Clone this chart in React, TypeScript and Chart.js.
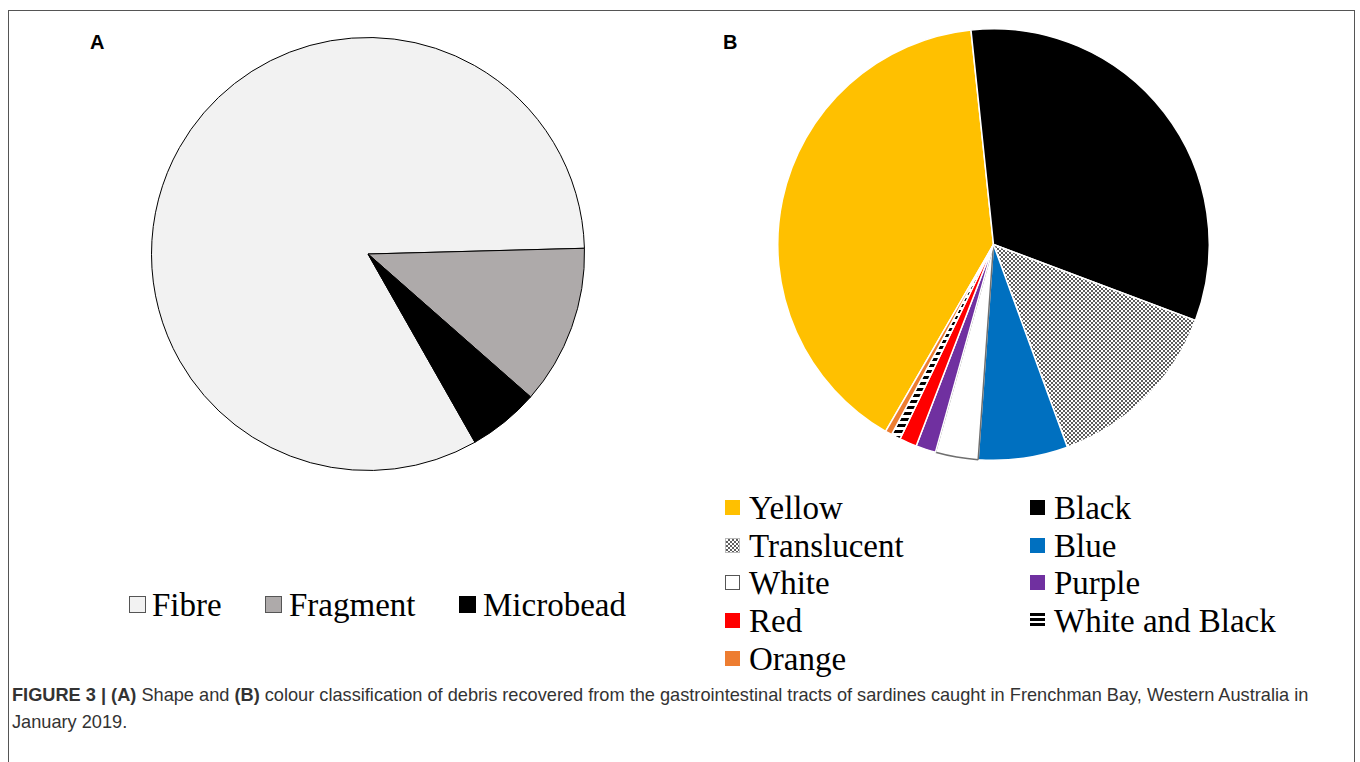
import React, { useEffect, useRef } from "react";
import { Chart, registerables } from "chart.js";

Chart.register(...registerables);

// ---- Data ----
const shapeLabels = ["Fibre", "Fragment", "Microbead"];
const shapeValues = [82.8, 11.9, 5.3];
const shapeColors = ["#f2f2f2", "#aeaaaa", "#000000"];

const colourLabels = [
  "Yellow",
  "Black",
  "Translucent",
  "Blue",
  "White",
  "Purple",
  "Red",
  "White and Black",
  "Orange",
];
const colourValues = [40.0, 32.4, 13.7, 6.7, 3.2, 1.5, 1.3, 0.7, 0.5];
const colourFills = [
  "#ffc000",
  "#000000",
  "pattern:checker",
  "#0070c0",
  "#ffffff",
  "#7030a0",
  "#ff0000",
  "pattern:stripes",
  "#ed7d31",
];

const captionBold1 = "FIGURE 3 | (A)";
const captionText1 = " Shape and ";
const captionBold2 = "(B)";
const captionText2 =
  " colour classification of debris recovered from the gastrointestinal tracts of sardines caught in Frenchman Bay, Western Australia in";
const captionLine2 = "January 2019.";

// ---- helpers ----
function makeChecker(): CanvasPattern | string {
  const c = document.createElement("canvas");
  c.width = 8;
  c.height = 8;
  const ctx = c.getContext("2d");
  if (!ctx) return "#aaaaaa";
  ctx.fillStyle = "#ffffff";
  ctx.fillRect(0, 0, 8, 8);
  ctx.fillStyle = "#5e5e5e";
  for (let y = 0; y < 8; y += 2) {
    for (let x = 0; x < 8; x += 2) {
      if (((x + y) / 2) % 2 === 0) ctx.fillRect(x, y, 2, 2);
    }
  }
  return ctx.createPattern(c, "repeat") || "#aaaaaa";
}

function makeStripes(): CanvasPattern | string {
  const c = document.createElement("canvas");
  c.width = 6;
  c.height = 6;
  const ctx = c.getContext("2d");
  if (!ctx) return "#555555";
  ctx.fillStyle = "#ffffff";
  ctx.fillRect(0, 0, 6, 6);
  ctx.fillStyle = "#000000";
  ctx.fillRect(0, 0, 6, 3);
  return ctx.createPattern(c, "repeat") || "#555555";
}

function resolveFill(f: string): any {
  if (f === "pattern:checker") return makeChecker();
  if (f === "pattern:stripes") return makeStripes();
  return f;
}

function markerStyle(f: string, size: number): React.CSSProperties {
  const base: React.CSSProperties = {
    position: "absolute",
    width: size,
    height: size,
    boxSizing: "border-box",
  };
  if (f === "pattern:checker") {
    return {
      ...base,
      background:
        "repeating-conic-gradient(#5e5e5e 0 25%, #ffffff 0 50%) 0 0 / 4px 4px",
      border: "1px solid #bbbbbb",
    };
  }
  if (f === "pattern:stripes") {
    return {
      ...base,
      height: size - 2,
      background:
        "repeating-linear-gradient(to bottom, #000 0px, #000 3px, #fff 3px, #fff 5px)",
    };
  }
  if (f === "#ffffff" || f === "#f2f2f2" || f === "#aeaaaa") {
    return { ...base, background: f, border: "1px solid #555555" };
  }
  return { ...base, background: f };
}

function PieCanvas(props: {
  left: number;
  top: number;
  size: number;
  labels: string[];
  values: number[];
  fills: string[];
  borderColors: string[];
  borderWidth: number;
  rotation: number;
}) {
  const ref = useRef<HTMLCanvasElement | null>(null);
  useEffect(() => {
    if (!ref.current) return;
    const chart = new Chart(ref.current, {
      type: "pie",
      data: {
        labels: props.labels,
        datasets: [
          {
            data: props.values,
            backgroundColor: props.fills.map(resolveFill),
            borderColor: props.borderColors,
            borderWidth: props.borderWidth,
            borderAlign: "center",
          } as any,
        ],
      },
      options: {
        responsive: false,
        animation: false,
        rotation: props.rotation,
        layout: { padding: 0 },
        plugins: {
          legend: { display: false },
          tooltip: { enabled: false },
          title: { display: false },
        },
      } as any,
    });
    return () => chart.destroy();
  }, []);
  return (
    <canvas
      ref={ref}
      width={props.size}
      height={props.size}
      style={{
        position: "absolute",
        left: props.left,
        top: props.top,
        width: props.size,
        height: props.size,
      }}
    />
  );
}

const serif = "'Liberation Serif', 'Times New Roman', serif";
const sans = "'Liberation Sans', Arial, sans-serif";

export default function App() {
  // legend A layout
  const legendA = [
    { mx: 129, tx: 152 },
    { mx: 265, tx: 289 },
    { mx: 459, tx: 483 },
  ];
  const legendACenter = 604;
  // legend B layout
  const colX = [{ mx: 725, tx: 749 }, { mx: 1030, tx: 1054 }];
  const rowY = [507, 545, 582, 620, 658];

  return (
    <div
      style={{
        position: "fixed",
        left: 0,
        top: 0,
        width: 1360,
        height: 762,
        background: "#ffffff",
        overflow: "hidden",
      }}
    >
      {/* frame */}
      <div
        style={{
          position: "absolute",
          left: 8,
          top: 10,
          width: 1347,
          height: 800,
          border: "1.5px solid #555555",
          borderBottom: "none",
          boxSizing: "border-box",
        }}
      />
      {/* panel letters */}
      <div
        style={{
          position: "absolute",
          left: 90,
          top: 30,
          fontFamily: sans,
          fontWeight: "bold",
          fontSize: 20,
          lineHeight: "24px",
          color: "#000",
        }}
      >
        A
      </div>
      <div
        style={{
          position: "absolute",
          left: 723,
          top: 30,
          fontFamily: sans,
          fontWeight: "bold",
          fontSize: 20,
          lineHeight: "24px",
          color: "#000",
        }}
      >
        B
      </div>

      <PieCanvas
        left={151}
        top={37}
        size={434}
        labels={shapeLabels}
        values={shapeValues}
        fills={shapeColors}
        borderColors={shapeLabels.map(() => "#000000")}
        borderWidth={1}
        rotation={150.4}
      />
      <PieCanvas
        left={777}
        top={28}
        size={433}
        labels={colourLabels}
        values={colourValues}
        fills={colourFills}
        borderColors={colourFills.map((f) =>
          f === "#ffffff" ? "#6f6f6f" : "#ffffff"
        )}
        borderWidth={1.5}
        rotation={210}
      />

      {/* legend A */}
      {shapeLabels.map((lab, i) => (
        <React.Fragment key={lab}>
          <div
            style={{
              ...markerStyle(shapeColors[i], 17),
              left: legendA[i].mx,
              top: legendACenter - 8,
            }}
          />
          <div
            style={{
              position: "absolute",
              left: legendA[i].tx,
              top: legendACenter + 12 - 31,
              fontFamily: serif,
              fontSize: 33,
              lineHeight: "40px",
              whiteSpace: "nowrap",
              color: "#000",
            }}
          >
            {lab}
          </div>
        </React.Fragment>
      ))}

      {/* legend B */}
      {colourLabels.map((lab, i) => {
        const r = Math.floor(i / 2);
        const c = i % 2;
        return (
          <React.Fragment key={lab}>
            <div
              style={{
                ...markerStyle(colourFills[i], 15),
                left: colX[c].mx,
                top: rowY[r] - 7,
              }}
            />
            <div
              style={{
                position: "absolute",
                left: colX[c].tx,
                top: rowY[r] + 12 - 31,
                fontFamily: serif,
                fontSize: 33,
                lineHeight: "40px",
                whiteSpace: "nowrap",
                color: "#000",
              }}
            >
              {lab}
            </div>
          </React.Fragment>
        );
      })}

      {/* caption */}
      <div
        style={{
          position: "absolute",
          left: 12,
          top: 682,
          fontFamily: sans,
          fontSize: 18.2,
          lineHeight: "27px",
          color: "#333333",
          whiteSpace: "nowrap",
        }}
      >
        <div>
          <b>{captionBold1}</b>
          {captionText1}
          <b>{captionBold2}</b>
          {captionText2}
        </div>
        <div>{captionLine2}</div>
      </div>
    </div>
  );
}
